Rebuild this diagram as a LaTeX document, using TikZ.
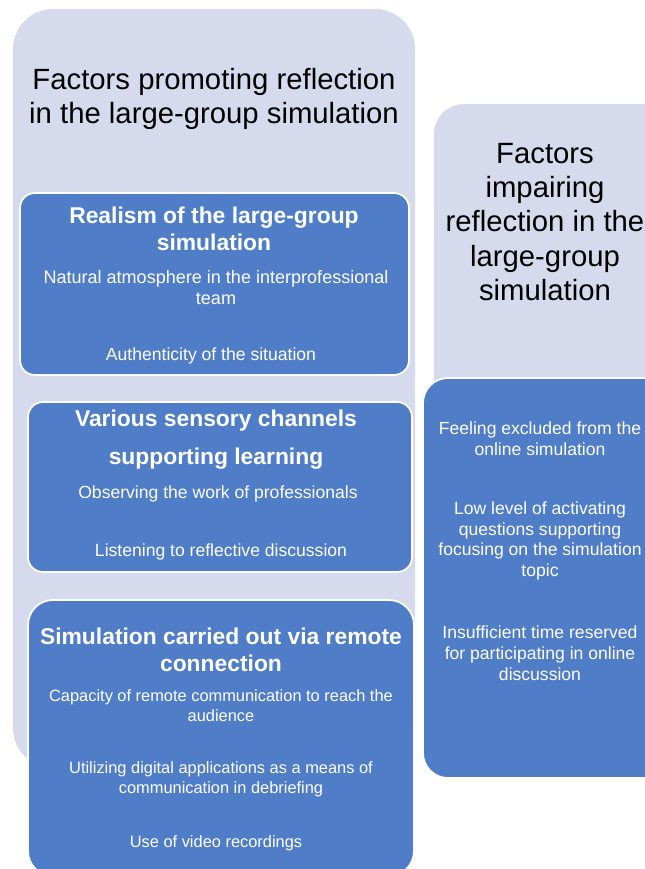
\documentclass[tikz,border=0pt]{standalone}
\usepackage{fontspec}
\setmainfont{Liberation Sans}
\definecolor{panelfill}{RGB}{213,219,236}
\definecolor{boxblue}{RGB}{79,125,200}
\tikzset{
  panel/.style={fill=panelfill, rounded corners=1.2cm},
  factorbox/.style={fill=boxblue, draw=white, line width=1.5pt, rounded corners=0.45cm},
  title/.style={align=center, text=black, font=\fontsize{25}{29.3}\selectfont},
  heading/.style={align=center, text=white, font=\bfseries\fontsize{19.5}{23}\selectfont},
  item/.style={align=center, text=white, font=\fontsize{15}{17.8}\selectfont},
  smallitem/.style={item, font=\fontsize{14}{17}\selectfont}
}
\begin{document}
\begin{tikzpicture}[x=0.03cm, y=-0.03cm]
  \useasboundingbox (0,0) rectangle (645,869);
  \clip (0,0) rectangle (645,869);
  % background panels
  \path[panel] (13,9) rectangle (415,768);
  \path[panel, rounded corners=0.9cm] (434,104) rectangle (720,420);
  \path[factorbox, rounded corners=0.75cm] (423,378) rectangle (720,778);
  \path[factorbox] (20,193) rectangle (409,375);
  \path[factorbox] (28,402) rectangle (412,572);
  \path[factorbox, rounded corners=0.75cm] (28,600) rectangle (414,876);
  % column titles
  \node[title] (promote) at (214,99) {Factors promoting reflection\\in the large-group simulation};
  \node[title] (impair) at (545,222) {Factors\\impairing\\reflection in the\\large-group\\simulation};
  % realism
  \node[heading] (realism) at (214,228.5) {Realism of the large-group\\simulation};
  \node[item, font=\fontsize{15.4}{17.8}\selectfont] (natural) at (216,287.5) {Natural atmosphere in the interprofessional\\team};
  \node[item] (authentic) at (211,356) {Authenticity of the situation};
  % sensory channels
  \node[heading, font=\bfseries\fontsize{19.5}{32.3}\selectfont] (sensory) at (216,440) {Various sensory channels\\supporting learning};
  \node[item] (observe) at (218,494) {Observing the work of professionals};
  \node[item] (listen) at (221,552) {Listening to reflective discussion};
  % remote connection
  \node[heading] (remote) at (221,649.5) {Simulation carried out via remote\\connection};
  \node[smallitem] (capacity) at (221,706) {Capacity of remote communication to reach the\\audience};
  \node[smallitem] (digital) at (221,779.5) {Utilizing digital applications as a means of\\communication in debriefing};
  \node[smallitem] (video) at (216,843) {Use of video recordings};
  % impairing factors
  \node[item] (excluded) at (540,439) {Feeling excluded from the\\online simulation};
  \node[item] (lowlevel) at (540,541) {Low level of activating\\questions supporting\\focusing on the simulation\\topic};
  \node[item] (notime) at (540,653) {Insufficient time reserved\\for participating in online\\discussion};
\end{tikzpicture}
\end{document}
